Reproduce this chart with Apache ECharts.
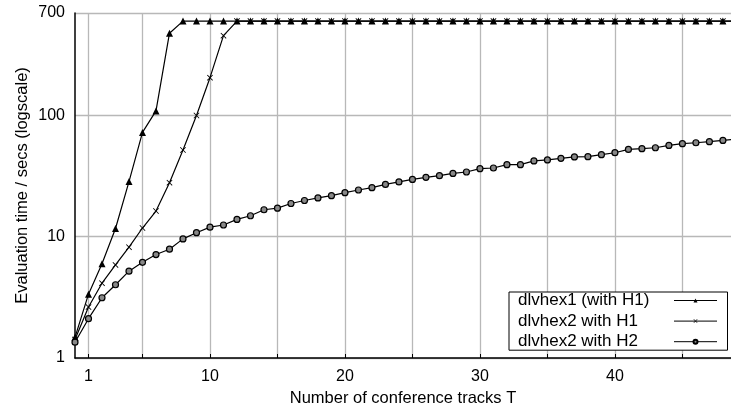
<!DOCTYPE html>
<html>
<head>
<meta charset="utf-8">
<script src="https://cdn.jsdelivr.net/npm/echarts@6/dist/echarts.min.js"></script>
<style>
  html, body { margin: 0; padding: 0; background: #fff; }
  #chart { width: 731px; height: 407px; }
</style>
</head>
<body>
<div id="chart"></div>
<script>
// conference tracks T (position on the x axis)
var tracks = [0, 1, 2, 3, 4, 5, 6, 7, 8, 9, 10, 11, 12, 13, 14, 15, 16, 17, 18, 19,
  20, 21, 22, 23, 24, 25, 26, 27, 28, 29, 30, 31, 32, 33, 34, 35, 36, 37, 38, 39,
  40, 41, 42, 43, 44, 45, 46, 47, 48, 49];

var seriesNames = ["dlvhex1 (with H1)", "dlvhex2 with H1", "dlvhex2 with H2"];

// evaluation time in seconds (600 = timeout)
var dlvhex1H1 = [1.48, 3.36, 5.98, 11.7, 28.5, 72.5, 109, 477, 600, 600,
  600, 600, 600, 600, 600, 600, 600, 600, 600, 600,
  600, 600, 600, 600, 600, 600, 600, 600, 600, 600,
  600, 600, 600, 600, 600, 600, 600, 600, 600, 600,
  600, 600, 600, 600, 600, 600, 600, 600, 600, 600];
var dlvhex2H1 = [1.42, 2.63, 4.14, 5.85, 8.2, 11.8, 16.3, 27.9, 51.9, 100,
  205, 455, 600, 600, 600, 600, 600, 600, 600, 600,
  600, 600, 600, 600, 600, 600, 600, 600, 600, 600,
  600, 600, 600, 600, 600, 600, 600, 600, 600, 600,
  600, 600, 600, 600, 600, 600, 600, 600, 600, 600];
var dlvhex2H2 = [1.35, 2.11, 3.14, 4.02, 5.2, 6.15, 7.13, 7.89, 9.6, 10.8,
  12.0, 12.5, 13.9, 14.9, 16.7, 17.2, 18.8, 19.9, 20.9, 21.8,
  23.1, 24.3, 25.4, 27.0, 28.3, 29.7, 30.9, 31.9, 33.3, 34.2,
  36.4, 36.9, 39.3, 39.3, 42.2, 43.0, 44.3, 45.5, 45.7, 47.5,
  49.3, 52.5, 53.2, 54.2, 56.6, 58.5, 59.6, 60.8, 62.3, 64.0];

var xLabels = [1, 10, 20, 30, 40];
var xGrid = [1, 5, 10, 15, 20, 25, 30, 35, 40, 45];

var font = "Liberation Sans";
var crossSymbol = "path://M0,1L1,0L5,4L9,0L10,1L6,5L10,9L9,10L5,6L1,10L0,9L4,5Z";

function pairs(vals) {
  return tracks.map(function (t, i) { return [t, vals[i]]; });
}

function lineSeries(name, vals, symbol, size, itemStyle) {
  return {
    name: name,
    type: "line",
    data: pairs(vals),
    symbol: symbol,
    symbolSize: size,
    showAllSymbol: true,
    clip: true,
    color: "#000",
    lineStyle: { color: "#000", width: 1.2 },
    itemStyle: itemStyle,
    emphasis: { disabled: true },
    animation: false
  };
}

var chart = echarts.init(document.getElementById("chart"));
chart.setOption({
  animation: false,
  grid: { left: 75, right: 0, top: 13, bottom: 49, outerBoundsMode: "none" },
  legend: {
    data: seriesNames,
    orient: "vertical",
    left: 509,
    top: 292,
    align: "right",
    backgroundColor: "#fff",
    borderColor: "#000",
    borderWidth: 1,
    borderRadius: 0,
    padding: [0, 10, 0, 9],
    itemWidth: 43,
    itemHeight: 5,
    itemGap: 3.6,
    lineStyle: { width: 1 },
    formatter: function (name) { return "{a|" + name + "}"; },
    textStyle: {
      rich: { a: { width: 151, align: "left", fontSize: 17, lineHeight: 18, fontFamily: font, color: "#000" } }
    }
  },
  xAxis: {
    type: "value",
    min: 0,
    max: 48.6,
    interval: 5,
    name: "Number of conference tracks T",
    nameLocation: "middle",
    nameGap: 30,
    nameTextStyle: { fontSize: 16.5, fontFamily: font, color: "#000" },
    axisLine: { lineStyle: { color: "#000", width: 1.5 } },
    axisTick: { customValues: xGrid, inside: true, length: 4, lineStyle: { color: "#000" } },
    axisLabel: { customValues: xLabels, fontSize: 16, fontFamily: font, color: "#000", margin: 11 },
    splitLine: { show: true, customValues: xGrid, lineStyle: { color: "#b8b8b8", width: 1.3 } }
  },
  yAxis: {
    type: "log",
    logBase: 10,
    min: 1,
    max: 700,
    name: "Evaluation time / secs (logscale)",
    nameLocation: "middle",
    nameGap: 44,
    nameMoveOverlap: false,
    nameRotate: 90,
    nameTextStyle: { fontSize: 16.5, fontFamily: font, color: "#000" },
    axisLine: { show: true, lineStyle: { color: "#000", width: 1.5 } },
    axisTick: { show: false },
    axisLabel: { fontSize: 16, fontFamily: font, color: "#000", margin: 10 },
    splitLine: { show: true, lineStyle: { color: "#b8b8b8", width: 1.3 } },
    minorSplitLine: { show: false }
  },
  series: [
    lineSeries(seriesNames[0], dlvhex1H1, "triangle", 7, { color: "#000" }),
    lineSeries(seriesNames[1], dlvhex2H1, crossSymbol, 6, { color: "#000" }),
    lineSeries(seriesNames[2], dlvhex2H2, "circle", 6, { color: "#888", borderColor: "#000", borderWidth: 1.2 })
  ]
});
</script>
</body>
</html>
